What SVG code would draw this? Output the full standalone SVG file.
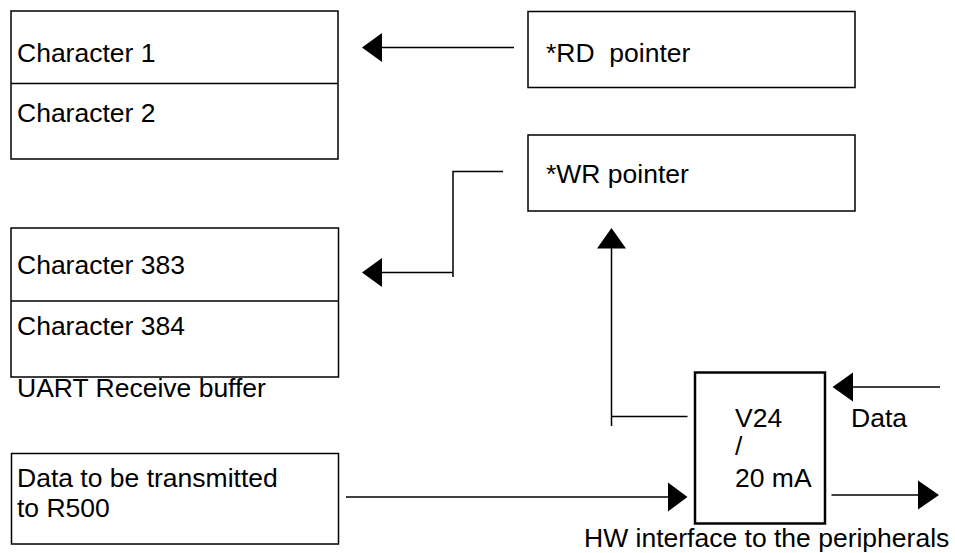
<svg xmlns="http://www.w3.org/2000/svg" width="955" height="553" viewBox="0 0 955 553">
<style>
.box{fill:#fff;stroke:#000;stroke-width:1.5}
.thick{fill:#fff;stroke:#000;stroke-width:2.5}
.ln{fill:none;stroke:#000;stroke-width:1.5}
.t{font-family:"Liberation Sans",Arial,sans-serif;font-size:26.5px;fill:#000;white-space:pre}
.head{fill:#000;stroke:none}
</style>
<rect width="955" height="553" fill="#fff"/>
<g id="buffer-top">
<rect class="box" x="11" y="11" width="327" height="148"/>
<line class="ln" x1="11" y1="83.5" x2="338" y2="83.5"/>
<text class="t" x="17" y="62">Character 1</text>
<text class="t" x="17" y="122">Character 2</text>
</g>
<g id="rd-pointer">
<rect class="box" x="528" y="11.5" width="327" height="76"/>
<text class="t" x="546" y="62" xml:space="preserve">*RD  pointer</text>
</g>
<g id="wr-pointer">
<rect class="box" x="528" y="135" width="327" height="76"/>
<text class="t" x="546" y="183">*WR pointer</text>
</g>
<g id="buffer-bottom">
<rect class="box" x="11" y="228" width="327.5" height="149"/>
<line class="ln" x1="11" y1="301" x2="338.5" y2="301"/>
<text class="t" x="17" y="274">Character 383</text>
<text class="t" x="17" y="335">Character 384</text>
<text class="t" x="17" y="397">UART Receive buffer</text>
</g>
<g id="tx-data">
<rect class="box" x="11.5" y="453.5" width="327" height="90.5"/>
<text class="t" x="17" y="487">Data to be transmitted</text>
<text class="t" x="17" y="517">to R500</text>
</g>
<g id="v24">
<rect class="thick" x="695" y="372.5" width="130" height="151"/>
<text class="t" x="735" y="427">V24</text>
<text class="t" x="735" y="455">/</text>
<text class="t" x="735" y="487">20 mA</text>
</g>
<g id="labels">
<text class="t" x="851" y="427">Data</text>
<text class="t" x="584" y="547">HW interface to the peripherals</text>
</g>
<g id="connectors">
<line class="ln" x1="514" y1="47.5" x2="380" y2="47.5"/>
<polygon class="head" points="362,47.5 382,33 382,62"/>
<polyline class="ln" points="503,171.5 453,171.5 453,277"/>
<line class="ln" x1="453" y1="272.5" x2="380" y2="272.5"/>
<polygon class="head" points="362,272.5 382,258 382,287"/>
<polyline class="ln" points="687.5,416.5 611.5,416.5"/>
<line class="ln" x1="611.5" y1="426" x2="611.5" y2="246"/>
<polygon class="head" points="611.5,228 597,248.5 626,248.5"/>
<line class="ln" x1="940" y1="387" x2="851" y2="387"/>
<polygon class="head" points="832.5,387 853,372.5 853,401.5"/>
<line class="ln" x1="831.5" y1="495" x2="920" y2="495"/>
<polygon class="head" points="939,495 918,480.5 918,509.5"/>
<line class="ln" x1="346" y1="497" x2="670" y2="497"/>
<polygon class="head" points="687.5,497 668,482.5 668,511.5"/>
</g>
</svg>
